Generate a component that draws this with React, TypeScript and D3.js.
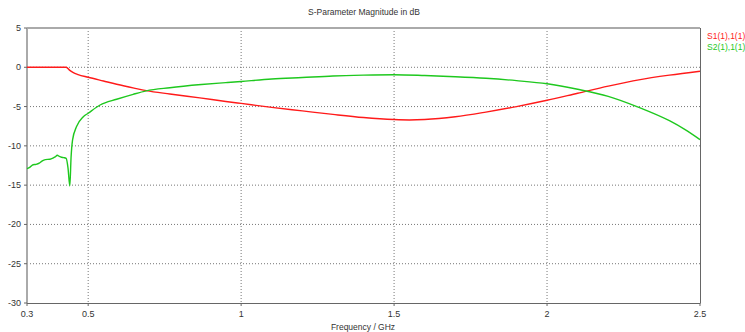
import React from "react";
import * as d3 from "d3";

// S11 magnitude (dB) vs frequency (GHz)
const s11Freq = [0.3, 0.42, 0.428, 0.44, 0.45, 0.467, 0.5, 0.55, 0.593, 0.65, 0.69, 0.767, 0.865, 0.95, 1.0, 1.1, 1.2, 1.3, 1.4, 1.5, 1.55, 1.6, 1.7, 1.8, 1.9, 2.0, 2.1, 2.2, 2.3, 2.4, 2.5];
const s11Db = [0, 0, 0, -0.4, -0.65, -0.93, -1.27, -1.75, -2.16, -2.65, -2.97, -3.4, -3.9, -4.35, -4.6, -5.1, -5.55, -6.0, -6.4, -6.65, -6.7, -6.65, -6.3, -5.7, -5.0, -4.2, -3.3, -2.4, -1.6, -1.0, -0.5];

// S21 magnitude (dB) vs frequency (GHz)
const s21Freq = [0.3, 0.31, 0.32, 0.33, 0.34, 0.35, 0.36, 0.375, 0.385, 0.392, 0.399, 0.406, 0.413, 0.42, 0.428, 0.434, 0.44, 0.444, 0.449, 0.462, 0.484, 0.5, 0.539, 0.593, 0.647, 0.69, 0.767, 0.87, 0.95, 1.0, 1.1, 1.2, 1.3, 1.4, 1.5, 1.6, 1.7, 1.8, 1.9, 2.0, 2.1, 2.2, 2.3, 2.4, 2.45, 2.5];
const s21Db = [-12.9, -12.7, -12.4, -12.35, -12.2, -11.9, -11.75, -11.7, -11.55, -11.4, -11.2, -11.35, -11.45, -11.5, -11.6, -12.8, -15.1, -11.5, -9.25, -7.55, -6.3, -5.85, -4.8, -4.07, -3.44, -3.0, -2.6, -2.2, -1.95, -1.8, -1.5, -1.3, -1.1, -1.0, -0.95, -1.05, -1.2, -1.4, -1.7, -2.1, -2.8, -3.7, -5.1, -6.8, -7.9, -9.2];

const xTicks = [0.3, 0.5, 1, 1.5, 2, 2.5];
const yTicks = [5, 0, -5, -10, -15, -20, -25, -30];
const seriesNames = ["S1(1),1(1)", "S2(1),1(1)"];

const W = 745;
const H = 332;
const left = 27;
const right = 700;
const top = 28;
const bottom = 303;
const font = "'Liberation Sans', Arial, sans-serif";
const RED = "#ff1a1a";
const GREEN = "#1ec81e";

export default function App() {
  const x = d3.scaleLinear().domain([0.3, 2.5]).range([left, right]);
  const y = d3.scaleLinear().domain([-30, 5]).range([bottom, top]);

  const line = d3
    .line<[number, number]>()
    .x((d) => x(d[0]))
    .y((d) => y(d[1]))
    .curve(d3.curveMonotoneX);

  const s11 = s11Freq.map((f, i) => [f, s11Db[i]] as [number, number]);
  const s21 = s21Freq.map((f, i) => [f, s21Db[i]] as [number, number]);

  return (
    <svg
      width={W}
      height={H}
      style={{ position: "absolute", left: 0, top: 0, background: "#fff" }}
      fontFamily={font}
    >
      {/* grid */}
      {xTicks
        .filter((t) => t !== 0.3 && t !== 2.5)
        .map((t) => (
          <line key={"gx" + t} x1={x(t)} x2={x(t)} y1={top} y2={bottom} stroke="#777" strokeDasharray="1,2" />
        ))}
      {yTicks
        .filter((t) => t !== 5 && t !== -30)
        .map((t) => (
          <line key={"gy" + t} x1={left} x2={right} y1={y(t)} y2={y(t)} stroke="#777" strokeDasharray="1,2" />
        ))}

      {/* frame */}
      <line x1={left} x2={right} y1={top} y2={top} stroke="#aaa" strokeWidth={2} />
      <line x1={left} x2={left} y1={top} y2={bottom} stroke="#aaa" strokeWidth={2} />
      <line x1={left} x2={right + 0.5} y1={bottom + 0.5} y2={bottom + 0.5} stroke="#666" strokeWidth={1} />
      <line x1={right + 0.5} x2={right + 0.5} y1={top} y2={bottom} stroke="#666" strokeWidth={1} />

      {/* ticks */}
      {xTicks.map((t) => (
        <g key={"xt" + t}>
          <line x1={x(t)} x2={x(t)} y1={bottom} y2={bottom + 3} stroke="#666" />
          <text x={x(t)} y={317} fontSize={9} textAnchor="middle" fill="#333">
            {t}
          </text>
        </g>
      ))}
      {yTicks.map((t) => (
        <g key={"yt" + t}>
          <line x1={left - 3} x2={left} y1={y(t)} y2={y(t)} stroke="#666" />
          <text x={21} y={y(t) + 3} fontSize={9} textAnchor="end" fill="#333">
            {t}
          </text>
        </g>
      ))}

      {/* traces */}
      <path d={line(s11) ?? ""} fill="none" stroke={RED} strokeWidth={1.4} />
      <path d={line(s21) ?? ""} fill="none" stroke={GREEN} strokeWidth={1.4} />

      {/* titles */}
      <text x={364} y={15} fontSize={8.5} textAnchor="middle" fill="#333">
        S-Parameter Magnitude in dB
      </text>
      <text x={363} y={330} fontSize={8.5} textAnchor="middle" fill="#333">
        Frequency / GHz
      </text>

      {/* legend */}
      <text x={707} y={39} fontSize={8.5} fill={RED}>
        {seriesNames[0]}
      </text>
      <text x={707} y={50} fontSize={8.5} fill={GREEN}>
        {seriesNames[1]}
      </text>
    </svg>
  );
}
